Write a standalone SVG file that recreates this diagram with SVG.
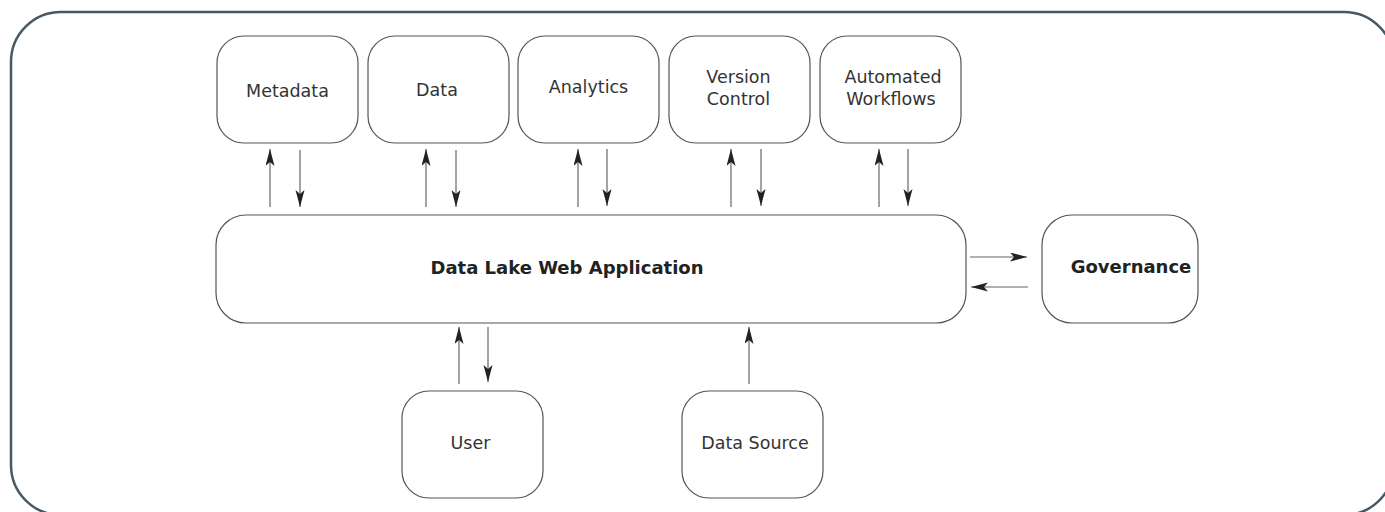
<svg xmlns="http://www.w3.org/2000/svg" width="1385" height="512" viewBox="0 0 1385 512">
<defs>
<style>
.frame{fill:none;stroke:#455a64;stroke-width:2.5}
.box{fill:#fff;stroke:#555;stroke-width:1.2}
.lbl{font-family:"DejaVu Sans",sans-serif;font-size:17.5px;fill:#333;text-anchor:middle}
.bold{font-family:"DejaVu Sans",sans-serif;font-size:18px;font-weight:bold;fill:#222}
.conn line{stroke:#666;stroke-width:1.2;marker-end:url(#arr)}
</style>
<marker id="arr" markerUnits="userSpaceOnUse" markerWidth="18" markerHeight="10" refX="17" refY="4.5" orient="auto">
<path d="M0,0 L17,4.5 L0,9 L4,4.5 Z" fill="#222"/>
</marker>
</defs>
<rect width="1385" height="512" fill="#fff"/>
<rect class="frame" x="11" y="12" width="1383" height="503" rx="50"/>
<g id="metadata"><rect class="box" x="217" y="36" width="141" height="107" rx="27"/><text class="lbl" x="287.5" y="96.5">Metadata</text></g>
<g id="data"><rect class="box" x="368" y="36" width="141" height="107" rx="27"/><text class="lbl" x="437" y="96">Data</text></g>
<g id="analytics"><rect class="box" x="518" y="36" width="141" height="107" rx="27"/><text class="lbl" x="588.5" y="93">Analytics</text></g>
<g id="version-control"><rect class="box" x="669" y="36" width="141" height="107" rx="27"/><text class="lbl" x="738.5" y="82.5">Version</text><text class="lbl" x="738.5" y="105">Control</text></g>
<g id="automated-workflows"><rect class="box" x="820" y="36" width="141" height="107" rx="27"/><text class="lbl" x="893" y="82.5">Automated</text><text class="lbl" x="891" y="105">Workflows</text></g>
<g id="webapp"><rect class="box" x="216" y="215" width="750" height="108" rx="30"/><text class="bold" x="567" y="274" text-anchor="middle">Data Lake Web Application</text></g>
<g id="governance"><rect class="box" x="1042" y="215" width="156" height="108" rx="30"/><text class="bold" x="1131" y="273" text-anchor="middle">Governance</text></g>
<g id="user"><rect class="box" x="402" y="391" width="141" height="107" rx="27"/><text class="lbl" x="470.5" y="449">User</text></g>
<g id="data-source"><rect class="box" x="682" y="391" width="141" height="107" rx="27"/><text class="lbl" x="755" y="449">Data Source</text></g>
<g class="conn" id="connectors">
<line x1="270" y1="207" x2="270" y2="149"/><line x1="300" y1="150" x2="300" y2="207"/>
<line x1="426" y1="207" x2="426" y2="149"/><line x1="456" y1="150" x2="456" y2="207"/>
<line x1="578" y1="207" x2="578" y2="149"/><line x1="607" y1="149" x2="607" y2="206"/>
<line x1="731" y1="207" x2="731" y2="149"/><line x1="761" y1="149" x2="761" y2="206"/>
<line x1="879" y1="207" x2="879" y2="149"/><line x1="908" y1="149" x2="908" y2="206"/>
<line x1="970" y1="257" x2="1027" y2="257"/><line x1="1028" y1="287" x2="971" y2="287"/>
<line x1="459" y1="384" x2="459" y2="327"/><line x1="488" y1="327" x2="488" y2="382"/>
<line x1="749" y1="384" x2="749" y2="327"/>
</g>
</svg>
